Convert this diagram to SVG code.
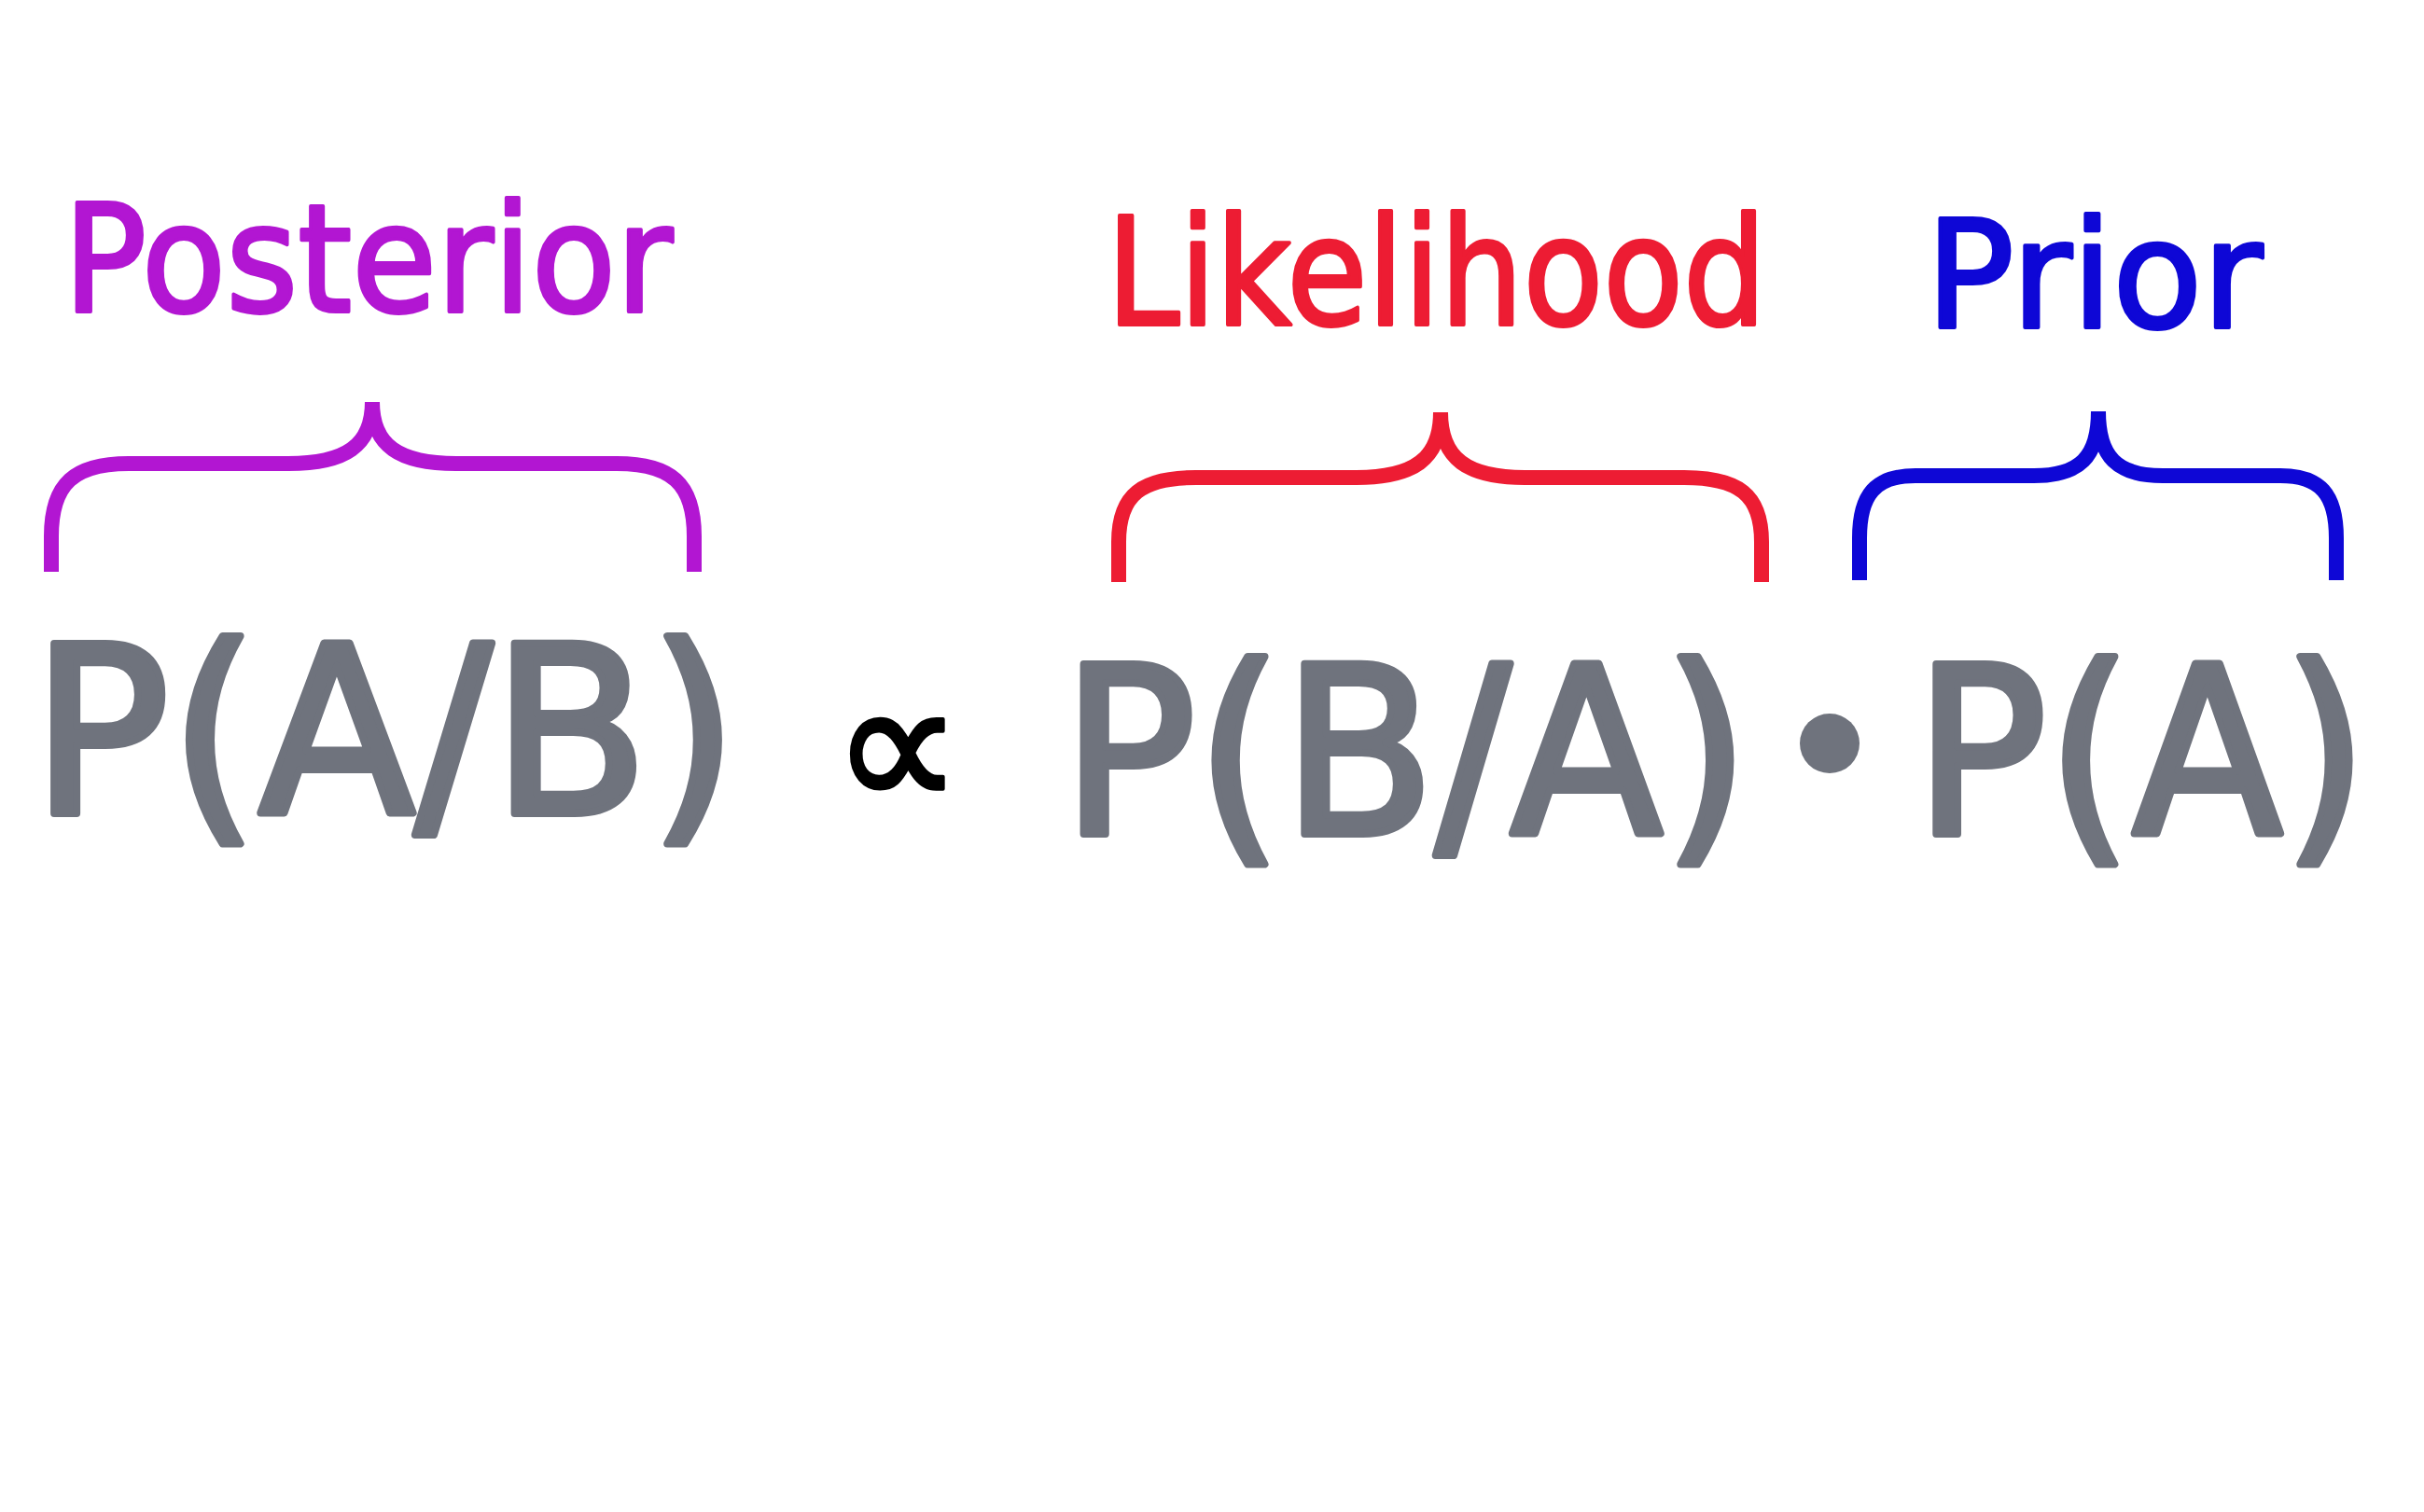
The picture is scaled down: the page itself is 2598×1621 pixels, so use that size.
<svg xmlns="http://www.w3.org/2000/svg" width="2598" height="1621" viewBox="0 0 2598 1621">
  <style>
    .lbl { font-family: "DejaVu Sans", "Liberation Sans", sans-serif; font-size: 160px; stroke-width: 4; stroke-linejoin: round; }
    .frm { font-family: "DejaVu Sans", "Liberation Sans", sans-serif; font-size: 250px; fill: #6f737d; stroke: #6f737d; stroke-width: 8; stroke-linejoin: round; }
    .brace { fill: none; stroke-width: 16; stroke-linecap: butt; stroke-linejoin: round; }
    .post { fill: #b216d2; stroke: #b216d2; }
    .like { fill: #ed1c33; stroke: #ed1c33; }
    .prio { fill: #0e07d6; stroke: #0e07d6; }
  </style>
  <rect width="2598" height="1621" fill="#ffffff"/>

  <g id="label-posterior">
    <text class="lbl post" x="68" y="334" textLength="653" lengthAdjust="spacingAndGlyphs">Posterior</text>
  </g>
  <g id="label-likelihood">
    <text class="lbl like" x="1186" y="348" textLength="707" lengthAdjust="spacingAndGlyphs">Likelihood</text>
  </g>
  <g id="label-prior">
    <text class="lbl prio" x="2064" y="351" textLength="361" lengthAdjust="spacingAndGlyphs">Prior</text>
  </g>

  <g id="connectors">
    <path class="brace post" style="fill:none" d="M55,613 L55,575 C55,518 80,497 138,497 L309,497 C370,497 399,478 399,431 M744,613 L744,575 C744,518 719,497 661,497 L489,497 C428,497 399,478 399,431"/>
    <path class="brace like" style="fill:none" d="M1199,624 L1199,581 C1199,530 1224,512 1282,512 L1454,512 C1515,512 1544,492 1544,442 M1888,624 L1888,581 C1888,530 1863,512 1805,512 L1634,512 C1573,512 1544,492 1544,442"/>
    <path class="brace prio" style="fill:none" d="M1993,622 L1993,577 C1993,530 2010,510 2053,510 L2180,510 C2229,510 2249,490 2249,441 M2504,622 L2504,577 C2504,530 2487,510 2444,510 L2318,510 C2269,510 2249,490 2249,441"/>
  </g>

  <g id="formula-posterior">
    <text class="frm" x="34" y="872" textLength="757" lengthAdjust="spacingAndGlyphs">P(A/B)</text>
  </g>
  <g id="proportional">
    <text x="892" y="868" font-family="DejaVu Sans, sans-serif" font-size="200" fill="#000000" stroke="#000000" stroke-width="4" stroke-linejoin="round" textLength="140" lengthAdjust="spacingAndGlyphs">∝</text>
  </g>
  <g id="formula-likelihood">
    <text class="frm" x="1138" y="894" textLength="737" lengthAdjust="spacingAndGlyphs">P(B/A)</text>
  </g>
  <g id="dot">
    <circle cx="1961" cy="797" r="32" fill="#6f737d"/>
  </g>
  <g id="formula-prior">
    <text class="frm" x="2052" y="894" textLength="486" lengthAdjust="spacingAndGlyphs">P(A)</text>
  </g>
</svg>
